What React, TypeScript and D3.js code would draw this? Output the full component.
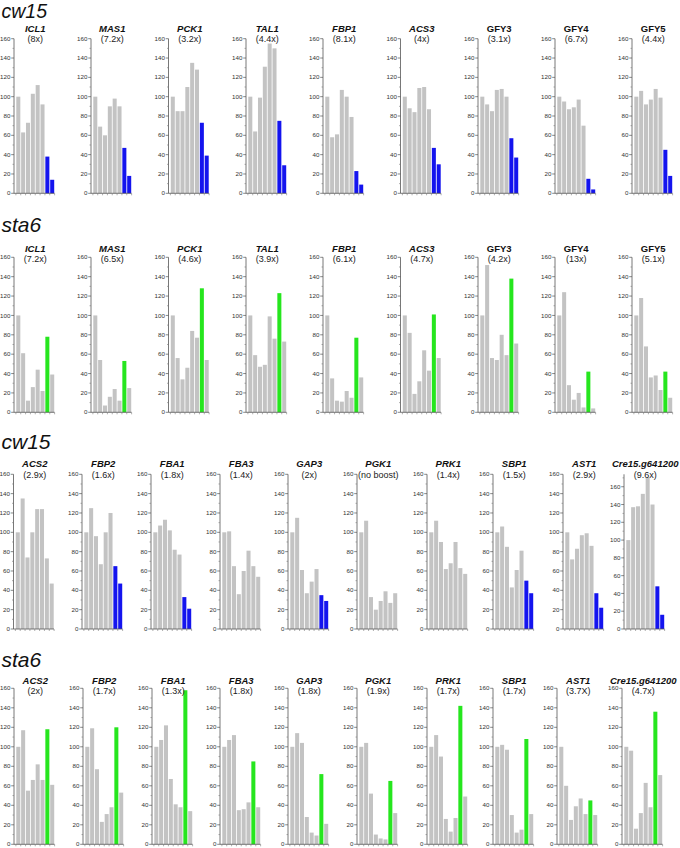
import React from 'react';
import * as d3 from 'd3';

// ---------- DATA ----------
const strainLabels = ['cw15', 'sta6', 'cw15', 'sta6'];

const genesTop = ['ICL1', 'MAS1', 'PCK1', 'TAL1', 'FBP1', 'ACS3', 'GFY3', 'GFY4', 'GFY5'];
const genesBottom = ['ACS2', 'FBP2', 'FBA1', 'FBA3', 'GAP3', 'PGK1', 'PRK1', 'SBP1', 'AST1', 'Cre15.g641200'];

const foldsCw15Top = ['(8x)', '(7.2x)', '(3.2x)', '(4.4x)', '(8.1x)', '(4x)', '(3.1x)', '(6.7x)', '(4.4x)'];
const foldsSta6Top = ['(7.2x)', '(6.5x)', '(4.6x)', '(3.9x)', '(6.1x)', '(4.7x)', '(4.2x)', '(13x)', '(5.1x)'];
const foldsCw15Bottom = ['(2.9x)', '(1.6x)', '(1.8x)', '(1.4x)', '(2x)', '(no boost)', '(1.4x)', '(1.5x)', '(2.9x)', '(9.6x)'];
const foldsSta6Bottom = ['(2x)', '(1.7x)', '(1.3x)', '(1.8x)', '(1.8x)', '(1.9x)', '(1.7x)', '(1.7x)', '(3.7X)', '(4.7x)'];

const valuesCw15Top = [
  [100, 63, 73, 103, 112, 92, 38, 14],
  [100, 69, 60, 90, 98, 90, 47, 18],
  [100, 85, 85, 110, 135, 128, 73, 39],
  [100, 64, 99, 131, 155, 150, 75, 29],
  [100, 58, 61, 107, 100, 79, 23, 9],
  [100, 88, 84, 109, 110, 87, 47, 30],
  [100, 92, 85, 107, 108, 100, 57, 37],
  [100, 95, 87, 89, 97, 70, 15, 4],
  [100, 106, 92, 97, 108, 99, 45, 18],
];
const valuesSta6Top = [
  [100, 61, 12, 26, 44, 22, 78, 39],
  [100, 54, 7, 16, 24, 12, 53, 25],
  [100, 56, 34, 46, 84, 77, 128, 54],
  [100, 59, 47, 49, 99, 76, 123, 73],
  [100, 35, 12, 11, 22, 15, 77, 36],
  [100, 82, 19, 32, 64, 43, 101, 56],
  [100, 152, 56, 54, 80, 59, 138, 71],
  [100, 124, 28, 13, 20, 5, 42, 4],
  [100, 118, 68, 36, 38, 23, 42, 15],
];
const valuesCw15Bottom = [
  [100, 135, 74, 100, 124, 124, 73, 47],
  [100, 125, 96, 67, 100, 120, 65, 47],
  [100, 107, 113, 102, 82, 77, 33, 21],
  [100, 101, 65, 36, 60, 81, 65, 54],
  [100, 115, 61, 37, 49, 62, 35, 29],
  [100, 112, 33, 20, 29, 39, 27, 37],
  [100, 112, 90, 62, 68, 90, 63, 57],
  [100, 106, 85, 43, 61, 81, 50, 37],
  [100, 72, 83, 97, 99, 86, 37, 22],
  [100, 137, 138, 152, 170, 140, 48, 16],
];
const valuesSta6Bottom = [
  [100, 117, 55, 66, 82, 66, 118, 61],
  [100, 119, 77, 23, 31, 38, 120, 53],
  [100, 107, 122, 67, 41, 38, 158, 34],
  [100, 107, 112, 35, 36, 43, 85, 38],
  [100, 114, 104, 28, 12, 9, 72, 21],
  [100, 104, 52, 10, 6, 5, 65, 32],
  [100, 112, 90, 26, 13, 27, 142, 49],
  [100, 102, 97, 30, 12, 15, 108, 31],
  [100, 60, 25, 39, 47, 31, 45, 30],
  [100, 96, 16, 32, 63, 38, 136, 71],
];

// indices of coloured bars in each panel
const highlightCw15Top = [[6, 7], [6, 7], [6, 7], [6, 7], [6, 7], [6, 7], [6, 7], [6, 7], [6, 7]];
const highlightSta6Top = [[6], [6], [6], [6], [6], [6], [6], [6], [6]];
const highlightCw15Bottom = [[], [6, 7], [6, 7], [], [6, 7], [], [], [6, 7], [6, 7], [6, 7]];
const highlightSta6Bottom = [[6], [6], [6], [6], [6], [6], [6], [6], [6], [6]];

// y-axis maximum per panel (one panel uses an extended scale)
const yMaxCw15Bottom = [160, 160, 160, 160, 160, 160, 160, 160, 160, 174];

// ---------- LAYOUT ----------
const BLUE = '#1414ee';
const GREEN = '#26e61e';
const GRAY = '#c3c3c3';
const FONT = "'Liberation Sans', Arial, Helvetica, sans-serif";

const xsTop = [14, 91, 168.5, 246, 323, 400.5, 478, 555, 632];
const xsRow3 = [13.5, 82, 151, 220, 288, 357, 427, 493, 563, 624];
const xsRow4 = [14, 83, 152, 220, 288, 357, 427, 493, 557, 622];

const rows = [
  { label: strainLabels[0], labelY: 18, labelSize: 19.5, titleY: 32, foldY: 42, top: 38.7, bottom: 193.3, xs: xsTop, genes: genesTop, folds: foldsCw15Top, values: valuesCw15Top, hl: highlightCw15Top, color: BLUE, ymax: null as number[] | null },
  { label: strainLabels[1], labelY: 232, labelSize: 21, titleY: 252, foldY: 262, top: 257.3, bottom: 412.3, xs: xsTop, genes: genesTop, folds: foldsSta6Top, values: valuesSta6Top, hl: highlightSta6Top, color: GREEN, ymax: null },
  { label: strainLabels[2], labelY: 449, labelSize: 21, titleY: 467, foldY: 478, top: 474.3, bottom: 629, xs: xsRow3, genes: genesBottom, folds: foldsCw15Bottom, values: valuesCw15Bottom, hl: highlightCw15Bottom, color: BLUE, ymax: yMaxCw15Bottom },
  { label: strainLabels[3], labelY: 667, labelSize: 21, titleY: 684, foldY: 694, top: 688.3, bottom: 844.3, xs: xsRow4, genes: genesBottom, folds: foldsSta6Bottom, values: valuesSta6Bottom, hl: highlightSta6Bottom, color: GREEN, ymax: null },
];

type PanelProps = {
  x0: number; top: number; bottom: number; ymax: number;
  values: number[]; hl: number[]; color: string;
  gene: string; fold: string; titleY: number; foldY: number;
};

function Panel({ x0, top, bottom, ymax, values, hl, color, gene, fold, titleY, foldY }: PanelProps) {
  const axisTop = top;
  const y = d3.scaleLinear().domain([0, ymax]).range([bottom, axisTop]);
  const x = d3.scaleBand<number>().domain(d3.range(values.length)).range([x0 + 2, x0 + 40.5]).paddingInner(0.17).paddingOuter(0.06);
  const majors = d3.range(0, 161, 20).filter((t) => t <= ymax);
  const minors = d3.range(10, ymax, 20);
  const cx = x0 + 21.25;
  const italic = !gene.startsWith('GFY');
  const step = x.step();
  const xTicks = d3.range(values.length + 1).map((i) => x0 + 2 + x.paddingOuter() * step - (x.paddingInner() * step) / 2 + i * step);
  return (
    <g>
      {values.map((v, i) => (
        <rect key={i} x={x(i)} y={y(v)} width={x.bandwidth()} height={bottom - y(v)}
          fill={hl.includes(i) ? color : GRAY} />
      ))}
      <line x1={x0} x2={x0} y1={axisTop} y2={bottom} stroke="#555" strokeWidth={0.8} />
      <line x1={x0} x2={x0 + 40.5} y1={bottom} y2={bottom} stroke="#555" strokeWidth={0.8} />
      {majors.map((t) => (
        <g key={'M' + t}>
          <line x1={x0 - 2.8} x2={x0} y1={y(t)} y2={y(t)} stroke="#555" strokeWidth={0.7} />
          <text x={x0 - 3.6} y={y(t) + 2.1} fontSize={6.2} textAnchor="end" fill="#333" fontFamily={FONT}>{t}</text>
        </g>
      ))}
      {minors.map((t) => (
        <line key={'m' + t} x1={x0 - 1.5} x2={x0} y1={y(t)} y2={y(t)} stroke="#777" strokeWidth={0.6} />
      ))}
      {xTicks.map((tx, i) => (
        <line key={'x' + i} x1={tx} x2={tx} y1={bottom} y2={bottom + 2} stroke="#777" strokeWidth={0.6} />
      ))}
      <text x={cx} y={titleY} textAnchor="middle" fontSize={9.5} fontWeight="bold" fontStyle={italic ? 'italic' : 'normal'} fontFamily={FONT} fill="#111">{gene}</text>
      <text x={cx} y={foldY} textAnchor="middle" fontSize={9} fontFamily={FONT} fill="#222">{fold}</text>
    </g>
  );
}

export default function App() {
  return (
    <svg width={680} height={848} style={{ position: 'absolute', left: 0, top: 0, background: '#fff' }}>
      <rect x={0} y={0} width={680} height={848} fill="#fff" />
      {rows.map((r, ri) => (
        <g key={ri}>
          <text x={1.5} y={r.labelY} fontSize={r.labelSize} fontStyle="italic" fontFamily={FONT} fill="#111">{r.label}</text>
          {r.genes.map((g, gi) => (
            <Panel key={gi} x0={r.xs[gi]} top={r.top} bottom={r.bottom}
              ymax={r.ymax ? r.ymax[gi] : 160}
              values={r.values[gi]} hl={r.hl[gi]} color={r.color}
              gene={g} fold={r.folds[gi]} titleY={r.titleY} foldY={r.foldY} />
          ))}
        </g>
      ))}
    </svg>
  );
}
